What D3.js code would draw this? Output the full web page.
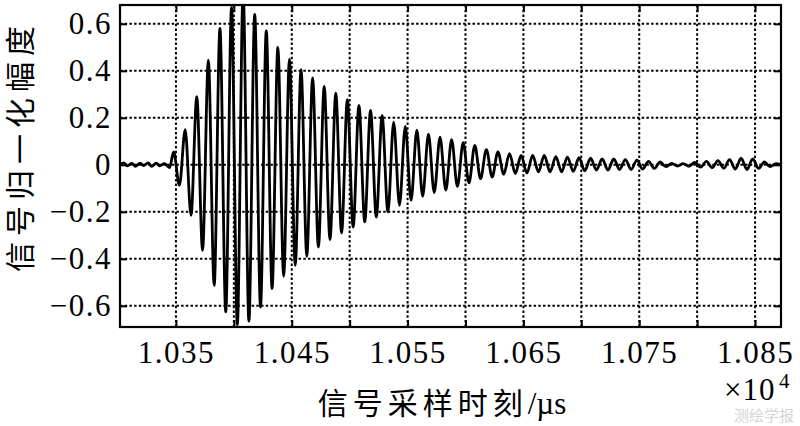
<!DOCTYPE html>
<html>
<head>
<meta charset="utf-8">
<script src="https://cdn.jsdelivr.net/npm/d3@7"></script>
<style>
  body { margin: 0; background: #fff; }
  svg { display: block; }
</style>
</head>
<body>
<script>
// Sample times (µs) of the waveform turning points
var sampleTimes = [
    10301.7, 10305, 10308, 10312, 10315, 10319, 10322, 10326, 10329, 10333, 10336, 10340, 10344.5,
    10348, 10353, 10358, 10363, 10368, 10373, 10378, 10383, 10388, 10393,
    10398, 10403, 10408, 10413, 10418, 10423, 10428, 10433, 10438, 10443,
    10448, 10453, 10458, 10463, 10468, 10473, 10478, 10483, 10488, 10493,
    10498, 10503, 10508, 10513, 10518, 10523, 10528, 10533, 10538, 10543,
    10548, 10553, 10558, 10563, 10568, 10573, 10578, 10583, 10588, 10593,
    10598, 10603, 10608, 10613, 10618, 10623, 10628, 10633, 10638, 10643,
    10648, 10653, 10658, 10663, 10668, 10673, 10678, 10683, 10688, 10693,
    10698, 10703, 10708, 10713, 10718, 10723, 10728, 10733, 10738, 10743,
    10748, 10753, 10758, 10763, 10768, 10773, 10778, 10783, 10788, 10793,
    10798, 10803, 10808, 10813, 10818, 10823, 10828, 10833, 10838, 10843,
    10848, 10853, 10858, 10863, 10868, 10872.4
];

// Normalised amplitude at each of those times
var amplitudes = [
    0.0, 0.008, -0.004, 0.006, -0.006, 0.007, -0.003, 0.008, -0.006, 0.007, -0.004, 0.005, -0.012,
    0.055, -0.087, 0.15, -0.215, 0.29, -0.364, 0.445, -0.513, 0.58, -0.626,
    0.67, -0.68, 0.74, -0.665, 0.64, -0.605, 0.57, -0.526, 0.50, -0.474,
    0.45, -0.428, 0.405, -0.389, 0.37, -0.35, 0.334, -0.318, 0.305, -0.29,
    0.277, -0.265, 0.253, -0.243, 0.232, -0.222, 0.209, -0.2, 0.182, -0.172,
    0.164, -0.151, 0.147, -0.134, 0.13, -0.118, 0.118, -0.108, 0.107, -0.092,
    0.094, -0.077, 0.083, -0.059, 0.065, -0.052, 0.055, -0.04, 0.048, -0.037,
    0.04, -0.035, 0.04, -0.03, 0.04, -0.03, 0.035, -0.03, 0.033, -0.028,
    0.03, -0.025, 0.028, -0.022, 0.025, -0.022, 0.025, -0.02, 0.022, -0.02,
    0.02, -0.018, 0.015, -0.015, 0.012, -0.008, 0.006, -0.005, 0.005, -0.006,
    0.01, -0.01, 0.015, -0.012, 0.018, -0.015, 0.022, -0.018, 0.028, -0.02,
    0.025, -0.015, 0.012, -0.008, 0.005, 0.0
];

// Axis ticks
var xGridValues = [10350, 10400, 10450, 10500, 10550, 10600, 10650, 10700, 10750, 10800, 10850];
var xLabelValues = [10350, 10450, 10550, 10650, 10750, 10850];
var xTickLabels = ["1.035", "1.045", "1.055", "1.065", "1.075", "1.085"];
var yTickValues = [-0.6, -0.4, -0.2, 0, 0.2, 0.4, 0.6];
var yTickLabels = ["\u22120.6", "\u22120.4", "\u22120.2", "0", "0.2", "0.4", "0.6"];

var data = sampleTimes.map(function(t, i) { return { t: t, v: amplitudes[i] }; });

var serif = "'Times New Roman', 'Liberation Serif', serif";

var W = 800, H = 426;
var margin = { top: 5, right: 19, bottom: 99, left: 120 },
    width = W - margin.left - margin.right,
    height = H - margin.top - margin.bottom;

var svg = d3.select("body").append("svg")
    .attr("width", W)
    .attr("height", H);

var x = d3.scaleLinear().domain([10301.7, 10872.4]).range([0, width]);
var y = d3.scaleLinear().domain([-0.69, 0.68]).range([height, 0]);

svg.append("defs").append("clipPath")
    .attr("id", "clip")
    .append("rect")
    .attr("width", width)
    .attr("height", height);

var g = svg.append("g")
    .attr("transform", "translate(" + margin.left + "," + margin.top + ")");

// dotted grid
g.append("g").selectAll("line")
    .data(xGridValues)
    .enter().append("line")
    .attr("x1", function(d) { return x(d); })
    .attr("x2", function(d) { return x(d); })
    .attr("y1", 0).attr("y2", height)
    .attr("stroke", "#000").attr("stroke-width", 2)
    .attr("stroke-dasharray", "2.5,2.2");

g.append("g").selectAll("line")
    .data(yTickValues)
    .enter().append("line")
    .attr("y1", function(d) { return y(d); })
    .attr("y2", function(d) { return y(d); })
    .attr("x1", 0).attr("x2", width)
    .attr("stroke", "#000").attr("stroke-width", 2)
    .attr("stroke-dasharray", "2.5,2.2");

// the waveform
var line = d3.line()
    .x(function(d) { return x(d.t); })
    .y(function(d) { return y(d.v); })
    .curve(d3.curveMonotoneX);

g.append("path")
    .datum(data)
    .attr("clip-path", "url(#clip)")
    .attr("fill", "none")
    .attr("stroke", "#000")
    .attr("stroke-width", 2.8)
    .attr("stroke-linejoin", "round")
    .attr("d", line);

// axes, ticks pointing inwards on all four sides
var xAxis = d3.axisBottom(x)
    .tickValues(xGridValues)
    .tickSizeInner(-7).tickSizeOuter(0)
    .tickFormat(function(d) {
        var i = xLabelValues.indexOf(d);
        return i < 0 ? "" : xTickLabels[i];
    });

var yAxis = d3.axisLeft(y)
    .tickValues(yTickValues)
    .tickSizeInner(-7).tickSizeOuter(0)
    .tickPadding(8)
    .tickFormat(function(d, i) { return yTickLabels[i]; });

var gx = g.append("g")
    .attr("transform", "translate(0," + height + ")")
    .call(xAxis);
gx.selectAll("text").attr("y", 36).attr("dy", 0);

var gy = g.append("g").call(yAxis);

g.append("g")
    .call(d3.axisTop(x).tickValues(xGridValues).tickSizeInner(-7).tickSizeOuter(0).tickFormat(""));

g.append("g")
    .attr("transform", "translate(" + width + ",0)")
    .call(d3.axisRight(y).tickValues(yTickValues).tickSizeInner(-7).tickSizeOuter(0).tickFormat(""));

g.selectAll(".domain").remove();
g.selectAll(".tick line").attr("stroke", "#000").attr("stroke-width", 2);
g.selectAll(".tick text")
    .attr("font-family", serif)
    .attr("font-size", 31)
    .attr("letter-spacing", 1.5)
    .attr("fill", "#000");

// frame
g.append("rect")
    .attr("width", width)
    .attr("height", height)
    .attr("fill", "none")
    .attr("stroke", "#000")
    .attr("stroke-width", 2.2);

// x10^4 exponent
svg.append("text")
    .attr("x", 724)
    .attr("y", 400)
    .attr("font-family", serif)
    .attr("font-size", 31)
    .attr("letter-spacing", 1)
    .attr("fill", "#000")
    .text("\u00d710");
svg.append("text")
    .attr("x", 779)
    .attr("y", 388)
    .attr("font-family", serif)
    .attr("font-size", 21)
    .attr("fill", "#000")
    .text("4");

// axis titles
var xt = svg.append("text")
    .attr("x", 442)
    .attr("y", 414)
    .attr("text-anchor", "middle")
    .attr("font-size", 30)
    .attr("fill", "#000");
xt.append("tspan")
    .attr("font-family", "'Noto Sans CJK SC', sans-serif")
    .attr("letter-spacing", 5)
    .text("信号采样时刻");
xt.append("tspan")
    .attr("font-family", serif)
    .attr("font-size", 31)
    .text("/µs");

svg.append("text")
    .attr("transform", "rotate(-90)")
    .attr("x", -146)
    .attr("y", 31)
    .attr("text-anchor", "middle")
    .attr("font-family", "'Noto Sans CJK SC', sans-serif")
    .attr("font-size", 30)
    .attr("letter-spacing", 6)
    .attr("fill", "#000")
    .text("信号归一化幅度");

// watermark
svg.append("text")
    .attr("x", 764)
    .attr("y", 421)
    .attr("text-anchor", "middle")
    .attr("font-family", "'Noto Sans CJK SC', sans-serif")
    .attr("font-size", 15)
    .attr("fill", "#d4d4d4")
    .text("测绘学报");
</script>
</body>
</html>
